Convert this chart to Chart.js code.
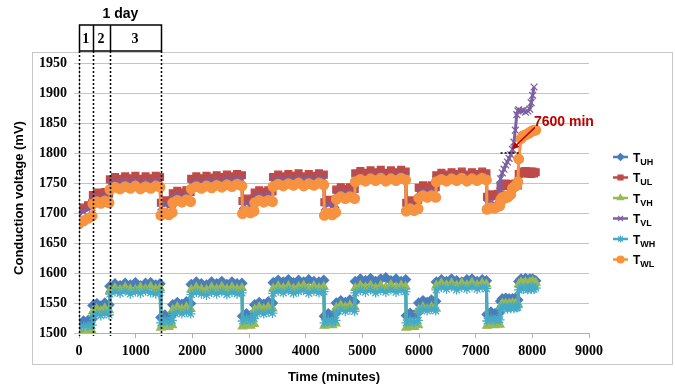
<!DOCTYPE html>
<html>
<head>
<meta charset="utf-8">
<script src="https://cdn.jsdelivr.net/npm/chart.js@4/dist/chart.umd.min.js"></script>
<style>
  html, body { margin: 0; padding: 0; background: #ffffff; }
  #wrap { width: 675px; height: 385px; position: relative; }
</style>
</head>
<body>
<div id="wrap"><canvas id="c" width="675" height="385"></canvas></div>
<script>
// ---------------- DATA ----------------
const minutes = [
  0, 80, 160, 230, 245, 315, 385, 455, 530, 545, 635, 725, 815, 905, 995, 1085, 1175, 1265, 1355, 1430,
  1445, 1515, 1585, 1645, 1655, 1735, 1815, 1895, 1970, 1980, 2070, 2160, 2250, 2340, 2430, 2520, 2610, 2700, 2790, 2875,
  2885, 2955, 3025, 3090, 3100, 3180, 3260, 3340, 3415, 3425, 3515, 3605, 3695, 3785, 3875, 3965, 4055, 4145, 4235, 4320,
  4330, 4400, 4470, 4530, 4540, 4620, 4700, 4780, 4865, 4875, 4965, 5055, 5145, 5235, 5325, 5415, 5505, 5595, 5685, 5765,
  5775, 5845, 5915, 5985, 5995, 6070, 6145, 6220, 6295, 6305, 6395, 6485, 6575, 6665, 6755, 6845, 6935, 7025, 7115, 7190,
  7200, 7270, 7340, 7395, 7425, 7440, 7470, 7500, 7530, 7560, 7590, 7620, 7650, 7675, 7700, 7725, 7745, 7760, 7800, 7840, 7880, 7920, 7955, 7980, 8005, 8030, 8060
];

const TUH = [
  1517, 1520, 1521, 1523, 1546, 1549, 1545, 1550, 1547, 1578, 1582, 1579, 1583, 1580, 1584, 1579, 1583, 1584, 1580, 1582,
  1526, 1530, 1527, 1531, 1547, 1551, 1548, 1552, 1549, 1581, 1585, 1582, 1580, 1585, 1582, 1586, 1581, 1585, 1582, 1583,
  1528, 1532, 1529, 1532, 1547, 1551, 1548, 1552, 1550, 1584, 1588, 1585, 1589, 1584, 1588, 1585, 1589, 1586, 1585, 1588,
  1528, 1532, 1529, 1533, 1550, 1554, 1551, 1555, 1552, 1586, 1590, 1587, 1591, 1586, 1590, 1592, 1587, 1590, 1586, 1589,
  1529, 1533, 1530, 1534, 1550, 1554, 1551, 1555, 1553, 1585, 1589, 1586, 1590, 1587, 1585, 1589, 1590, 1586, 1589, 1587,
  1531, 1535, 1532, 1536, 1534, 1553, 1557, 1554, 1558, 1554, 1557, 1553, 1557, 1554, 1558, 1556, 1555, 1586, 1590, 1587, 1591, 1587, 1590, 1586, 1590, 1587, 1587
];
const TUL = [
  1705, 1709, 1713, 1716, 1730, 1734, 1731, 1735, 1732, 1756, 1760, 1757, 1761, 1758, 1762, 1757, 1761, 1758, 1762, 1760,
  1717, 1721, 1718, 1721, 1733, 1737, 1734, 1738, 1735, 1757, 1761, 1758, 1762, 1759, 1763, 1760, 1764, 1761, 1765, 1763,
  1720, 1724, 1721, 1724, 1734, 1738, 1735, 1738, 1736, 1760, 1764, 1761, 1765, 1762, 1766, 1761, 1765, 1762, 1766, 1764,
  1718, 1722, 1719, 1722, 1739, 1743, 1740, 1743, 1740, 1766, 1770, 1767, 1771, 1768, 1772, 1767, 1771, 1768, 1772, 1769,
  1717, 1721, 1718, 1722, 1742, 1746, 1743, 1746, 1743, 1763, 1767, 1764, 1768, 1765, 1769, 1764, 1768, 1765, 1769, 1766,
  1727, 1731, 1728, 1732, 1730, 1744, 1748, 1745, 1749, 1745, 1748, 1744, 1748, 1745, 1749, 1747, 1746, 1765, 1769, 1766, 1770, 1766, 1769, 1765, 1769, 1766, 1768
];
const TVH = [
  1499, 1500, 1502, 1503, 1536, 1540, 1537, 1541, 1538, 1571, 1575, 1572, 1576, 1573, 1572, 1576, 1573, 1577, 1573, 1575,
  1509, 1513, 1510, 1513, 1539, 1543, 1540, 1543, 1540, 1572, 1576, 1573, 1572, 1576, 1573, 1577, 1573, 1576, 1573, 1575,
  1511, 1515, 1512, 1515, 1539, 1543, 1540, 1543, 1541, 1574, 1578, 1575, 1578, 1574, 1577, 1579, 1575, 1578, 1575, 1577,
  1512, 1516, 1513, 1516, 1542, 1546, 1543, 1546, 1543, 1575, 1579, 1576, 1579, 1575, 1579, 1576, 1580, 1576, 1579, 1577,
  1509, 1513, 1510, 1513, 1539, 1543, 1540, 1543, 1541, 1579, 1583, 1580, 1583, 1579, 1583, 1580, 1584, 1580, 1583, 1581,
  1512, 1516, 1513, 1516, 1514, 1545, 1549, 1546, 1549, 1545, 1549, 1546, 1550, 1546, 1549, 1547, 1548, 1581, 1585, 1582, 1585, 1581, 1585, 1582, 1586, 1582, 1584
];
const TVL = [
  1698, 1702, 1706, 1709, 1723, 1727, 1724, 1728, 1725, 1748, 1752, 1749, 1753, 1750, 1753, 1749, 1752, 1750, 1753, 1751,
  1710, 1714, 1711, 1714, 1726, 1730, 1727, 1731, 1728, 1749, 1753, 1750, 1754, 1752, 1755, 1752, 1756, 1753, 1757, 1755,
  1712, 1716, 1713, 1716, 1726, 1730, 1727, 1730, 1728, 1753, 1757, 1754, 1758, 1755, 1759, 1755, 1758, 1755, 1759, 1757,
  1710, 1714, 1711, 1714, 1731, 1735, 1732, 1735, 1732, 1758, 1762, 1759, 1763, 1760, 1764, 1760, 1763, 1760, 1764, 1761,
  1710, 1714, 1711, 1715, 1733, 1737, 1734, 1737, 1734, 1756, 1760, 1757, 1761, 1758, 1762, 1758, 1761, 1758, 1762, 1759,
  1716, 1718, 1715, 1722, 1746, 1757, 1767, 1773, 1780, 1785, 1791, 1797, 1806, 1818, 1838, 1864, 1870, 1872, 1870, 1871, 1868, 1870, 1873, 1884, 1896, 1910, null
];
const TWH = [
  1509, 1511, 1512, 1513, 1528, 1532, 1529, 1533, 1530, 1565, 1569, 1566, 1570, 1565, 1569, 1566, 1570, 1567, 1565, 1568,
  1517, 1521, 1518, 1521, 1531, 1535, 1532, 1535, 1532, 1564, 1568, 1565, 1563, 1568, 1565, 1569, 1564, 1568, 1565, 1567,
  1520, 1524, 1521, 1524, 1531, 1535, 1532, 1535, 1533, 1566, 1570, 1567, 1571, 1566, 1569, 1571, 1566, 1570, 1567, 1569,
  1517, 1521, 1518, 1521, 1535, 1539, 1536, 1539, 1536, 1567, 1571, 1568, 1572, 1567, 1571, 1568, 1572, 1568, 1571, 1569,
  1517, 1521, 1518, 1521, 1536, 1540, 1537, 1540, 1537, 1572, 1576, 1573, 1577, 1572, 1576, 1573, 1577, 1573, 1576, 1574,
  1520, 1524, 1521, 1524, 1522, 1540, 1544, 1541, 1544, 1540, 1544, 1541, 1545, 1541, 1544, 1542, 1543, 1572, 1576, 1573, 1576, 1572, 1576, 1573, 1577, 1573, 1575
];
const TWL = [
  1682, 1687, 1691, 1695, 1715, 1719, 1716, 1720, 1717, 1739, 1743, 1740, 1744, 1741, 1745, 1740, 1744, 1741, 1745, 1743,
  1696, 1700, 1697, 1701, 1717, 1721, 1718, 1722, 1719, 1740, 1744, 1741, 1745, 1742, 1746, 1743, 1747, 1744, 1748, 1745,
  1699, 1703, 1700, 1703, 1717, 1721, 1718, 1721, 1719, 1744, 1748, 1745, 1749, 1746, 1750, 1745, 1749, 1746, 1750, 1747,
  1696, 1700, 1697, 1701, 1723, 1727, 1724, 1727, 1724, 1752, 1756, 1753, 1757, 1754, 1758, 1753, 1757, 1754, 1758, 1755,
  1703, 1707, 1704, 1707, 1725, 1729, 1726, 1729, 1726, 1752, 1756, 1753, 1757, 1754, 1758, 1753, 1757, 1754, 1758, 1755,
  1706, 1709, 1708, 1711, 1712, 1722, 1726, 1724, 1728, 1726, 1729, 1731, 1741, 1743, 1745, 1746, 1752, 1790, 1824, 1829, 1830, 1832, 1834, 1836, 1837, 1838, 1838
];

const seriesNames = ['TUH', 'TUL', 'TVH', 'TVL', 'TWH', 'TWL'];
const legendMain = 'T';
const legendSubs = ['UH', 'UL', 'VH', 'VL', 'WH', 'WL'];
const seriesValues = [TUH, TUL, TVH, TVL, TWH, TWL];

const xTickValues = [0, 1000, 2000, 3000, 4000, 5000, 6000, 7000, 8000, 9000];
const yTickValues = [1500, 1550, 1600, 1650, 1700, 1750, 1800, 1850, 1900, 1950];

const xTitle = 'Time (minutes)';
const yTitle = 'Conduction voltage (mV)';
const dayTitle = '1 day';
const phaseBounds = [0, 240, 540, 1440];
const phaseLabels = ['1', '2', '3'];
const markText = '7600 min';
const markTip = [7640, 1806];
const markLevel = 1800;
const markSpan = [7440, 7760];

// ---------------- STYLES ----------------
const seriesColors = ['#4A7EBB', '#BE4B48', '#98B954', '#7D60A0', '#46AAC5', '#F69240'];
const seriesMarkers = ['rectRot', 'rect', 'triangle', 'crossRot', 'star', 'circle'];
const seriesOrder = [6, 5, 4, 3, 2, 1];

const SANS = '"Liberation Sans", Arial, sans-serif';
const SERIF = '"Liberation Serif", "Times New Roman", serif';

const datasets = seriesNames.map((name, k) => ({
  label: name,
  data: minutes.map((t, i) => ({ x: t, y: seriesValues[k][i] })),
  borderColor: seriesColors[k],
  backgroundColor: seriesColors[k],
  pointBackgroundColor: seriesColors[k],
  pointBorderColor: seriesColors[k],
  pointStyle: seriesMarkers[k],
  pointRadius: 4.8,
  pointBorderWidth: 1.3,
  borderWidth: 3,
  tension: 0,
  spanGaps: false,
  order: seriesOrder[k]
}));

const legendPlugin = {
  id: 'subLegend',
  afterDraw(chart) {
    const ctx = chart.ctx;
    chart.data.datasets.forEach((ds, i) => {
      const y = 157 + i * 20.5;
      ctx.save();
      ctx.strokeStyle = ds.borderColor;
      ctx.lineWidth = 2.5;
      ctx.beginPath(); ctx.moveTo(613, y); ctx.lineTo(628, y); ctx.stroke();
      ctx.fillStyle = ds.borderColor;
      ctx.strokeStyle = ds.borderColor;
      ctx.lineWidth = 1.2;
      if (Chart.helpers && Chart.helpers.drawPoint) {
        Chart.helpers.drawPoint(ctx, { pointStyle: ds.pointStyle, radius: 3.5, borderWidth: 1.2, rotation: 0 }, 620.5, y);
      } else {
        ctx.beginPath(); ctx.arc(620.5, y, 3.5, 0, Math.PI * 2); ctx.fill();
      }
      ctx.fillStyle = '#000';
      ctx.textBaseline = 'alphabetic';
      ctx.textAlign = 'left';
      ctx.font = 'bold 12px ' + SANS;
      ctx.fillText(legendMain, 633, y + 4.5);
      const w = ctx.measureText(legendMain).width;
      ctx.font = 'bold 9px ' + SANS;
      ctx.fillText(legendSubs[i], 633 + w, y + 7.5);
      ctx.restore();
    });
  }
};

const annoPlugin = {
  id: 'annos',
  beforeDraw(chart) {
    const ctx = chart.ctx;
    ctx.save();
    ctx.strokeStyle = '#C8C8C8';
    ctx.lineWidth = 1;
    ctx.strokeRect(32.5, 52.5, 640, 312);
    ctx.restore();
  },
  afterDatasetsDraw(chart) {
    const { ctx, scales: { x, y } } = chart;
    ctx.save();
    ctx.strokeStyle = '#000';
    ctx.lineWidth = 1.5;
    ctx.setLineDash([2, 2]);
    phaseBounds.forEach(t => {
      const px = Math.round(x.getPixelForValue(t)) + 0.5;
      ctx.beginPath(); ctx.moveTo(px, 51); ctx.lineTo(px, 336); ctx.stroke();
    });
    ctx.beginPath();
    ctx.moveTo(x.getPixelForValue(markSpan[0]), y.getPixelForValue(markLevel));
    ctx.lineTo(x.getPixelForValue(markSpan[1]), y.getPixelForValue(markLevel));
    ctx.stroke();
    ctx.setLineDash([]);
    const x0 = Math.round(x.getPixelForValue(phaseBounds[0])) + 0.5;
    const x3 = Math.round(x.getPixelForValue(phaseBounds[3])) + 0.5;
    ctx.lineWidth = 1.5;
    ctx.strokeRect(x0, 25, x3 - x0, 26);
    for (let i = 1; i < phaseBounds.length - 1; i++) {
      const px = Math.round(x.getPixelForValue(phaseBounds[i])) + 0.5;
      ctx.beginPath(); ctx.moveTo(px, 25); ctx.lineTo(px, 51); ctx.stroke();
    }
    ctx.fillStyle = '#000';
    ctx.textAlign = 'center';
    ctx.textBaseline = 'middle';
    ctx.font = 'bold 14px ' + SERIF;
    for (let i = 0; i < phaseLabels.length; i++) {
      const a = x.getPixelForValue(phaseBounds[i]);
      const b = x.getPixelForValue(phaseBounds[i + 1]);
      ctx.fillText(phaseLabels[i], (a + b) / 2, 39);
    }
    ctx.font = 'bold 14px ' + SANS;
    ctx.fillText(dayTitle, (x0 + x3) / 2, 14);
    const tx = x.getPixelForValue(markTip[0]);
    const ty = y.getPixelForValue(markTip[1]);
    const sx = tx + 23, sy = ty - 22;
    ctx.strokeStyle = '#C00000';
    ctx.fillStyle = '#C00000';
    ctx.lineWidth = 1.5;
    const ang = Math.atan2(ty - sy, tx - sx);
    const hl = 7;
    ctx.beginPath(); ctx.moveTo(sx, sy); ctx.lineTo(tx - Math.cos(ang) * hl * 0.8, ty - Math.sin(ang) * hl * 0.8); ctx.stroke();
    ctx.beginPath();
    ctx.moveTo(tx, ty);
    ctx.lineTo(tx - hl * Math.cos(ang) + 3.5 * Math.sin(ang), ty - hl * Math.sin(ang) - 3.5 * Math.cos(ang));
    ctx.lineTo(tx - hl * Math.cos(ang) - 3.5 * Math.sin(ang), ty - hl * Math.sin(ang) + 3.5 * Math.cos(ang));
    ctx.closePath(); ctx.fill();
    ctx.textAlign = 'left';
    ctx.textBaseline = 'middle';
    ctx.font = 'bold 14px ' + SANS;
    ctx.fillText(markText, tx + 22, ty - 27);
    ctx.restore();
  }
};

new Chart(document.getElementById('c'), {
  type: 'line',
  data: { datasets },
  options: {
    responsive: false,
    animation: false,
    devicePixelRatio: 1,
    layout: { padding: { top: 63, right: 86, left: 8, bottom: 0 } },
    plugins: { legend: { display: false }, tooltip: { enabled: false } },
    scales: {
      x: {
        type: 'linear',
        min: 0, max: 9000,
        afterBuildTicks: s => { s.ticks = xTickValues.map(v => ({ value: v })); },
        afterFit: s => { s.height = 52; },
        ticks: { color: '#000', font: { family: SERIF, size: 14, weight: 'bold' }, padding: 5, maxRotation: 0, callback: v => String(v) },
        grid: { drawOnChartArea: false, drawTicks: true, tickLength: 5, color: '#B0B0B0' },
        border: { display: true, color: '#B0B0B0', width: 1 },
        title: { display: true, text: xTitle, color: '#000', font: { family: SANS, size: 13, weight: 'bold' }, padding: { top: 0, bottom: 0 } }
      },
      y: {
        type: 'linear',
        min: 1500, max: 1950,
        afterBuildTicks: s => { s.ticks = yTickValues.map(v => ({ value: v })); },
        afterFit: s => { s.width = 71; },
        ticks: { color: '#000', font: { family: SERIF, size: 14, weight: 'bold' }, padding: 7, callback: v => String(v) },
        grid: { color: '#C4C4C4', tickLength: 5, drawTicks: true },
        border: { display: true, color: '#B0B0B0', width: 1 },
        title: { display: true, text: yTitle, color: '#000', font: { family: SANS, size: 13, weight: 'bold' }, padding: { top: 4, bottom: 0 } }
      }
    }
  },
  plugins: [annoPlugin, legendPlugin]
});
</script>
</body>
</html>
